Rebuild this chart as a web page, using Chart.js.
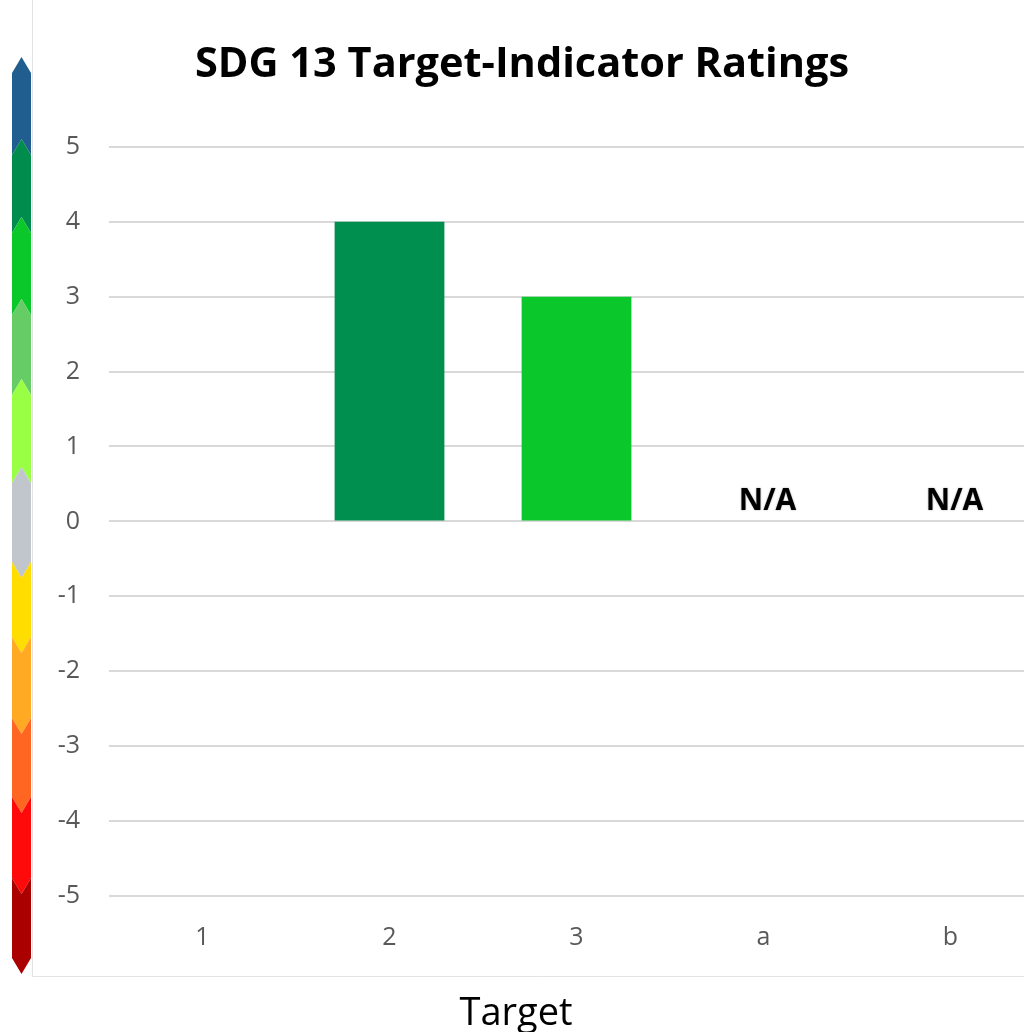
<!DOCTYPE html>
<html>
<head>
<meta charset="utf-8">
<script src="https://cdn.jsdelivr.net/npm/chart.js@4/dist/chart.umd.min.js"></script>
<style>
    html, body { margin: 0; padding: 0; background: #fff; overflow: hidden; }
    #wrap { width: 1024px; height: 1032px; overflow: hidden; }
</style>
</head>
<body>
<div id="wrap"><canvas id="ratings" width="1044" height="1032"></canvas></div>
<script>
    "use strict";

    // Targets and their ratings (null = not assessed)
    const targets = ['1', '2', '3', 'a', 'b'];
    const ratings = [null, 4, 3, null, null];
    const barColors = ['#009a4e', '#008f4e', '#0ac72b', '#0ac72b', '#0ac72b'];
    const valueNotes = ['', '', '', 'N/A', 'N/A'];
    const yTicks = [5, 4, 3, 2, 1, 0, -1, -2, -3, -4, -5];
    const xTitle = 'Target';

    // Rating colour scale, top (best) to bottom (worst)
    const scaleColors = [
        '#1f5e8e', '#008c4c', '#0ac82a', '#66cc66', '#99ff44', '#c0c6cc',
        '#ffdd00', '#ffaa22', '#ff6622', '#ff0a0a', '#aa0000',
    ];

    // Colour strip down the left edge, chart box border and axis title
    const ratingStrip = {
        id: 'ratingStrip',
        beforeDraw: function (chart) {
            const ctx = chart.ctx;
            const x0 = 12, x1 = 31, xm = (x0 + x1) / 2;
            const dip = 16;
            // segment edges: chevrons point up above neutral, down below it
            const ups = [73, 155, 233, 315, 395, 483];
            const downs = [562, 637, 718, 797, 878, 958];
            const edges = ups.map((y) => ({ y: y, tip: y - dip }))
                .concat(downs.map((y) => ({ y: y, tip: y + dip })));
            ctx.save();
            for (let i = 0; i < scaleColors.length; i++) {
                const top = edges[i];
                const bot = edges[i + 1];
                ctx.beginPath();
                ctx.moveTo(x0, top.y);
                ctx.lineTo(xm, top.tip);
                ctx.lineTo(x1, top.y);
                ctx.lineTo(x1, bot.y);
                ctx.lineTo(xm, bot.tip);
                ctx.lineTo(x0, bot.y);
                ctx.closePath();
                ctx.fillStyle = scaleColors[i];
                ctx.fill();
            }
            // box border
            ctx.strokeStyle = '#e3e3e3';
            ctx.lineWidth = 1;
            ctx.beginPath();
            ctx.moveTo(32.5, 0);
            ctx.lineTo(32.5, 976.5);
            ctx.lineTo(chart.width, 976.5);
            ctx.stroke();
            // x axis title, centred on the box
            ctx.font = '38px "Open Sans", sans-serif';
            ctx.fillStyle = '#000';
            ctx.textAlign = 'center';
            ctx.textBaseline = 'alphabetic';
            ctx.fillText(xTitle, 516, 1025);
            ctx.restore();
        }
    };

    // "N/A" notes for targets without a rating
    const noteLabels = {
        id: 'noteLabels',
        afterDatasetsDraw: function (chart) {
            const ctx = chart.ctx;
            const xs = chart.scales.x, ys = chart.scales.y;
            ctx.save();
            ctx.font = 'bold 30px "Open Sans", sans-serif';
            ctx.fillStyle = '#000';
            ctx.textAlign = 'center';
            ctx.textBaseline = 'alphabetic';
            ctx.shadowColor = 'rgba(0,0,0,0.35)';
            ctx.shadowBlur = 2;
            valueNotes.forEach((note, i) => {
                if (!note) {
                    return;
                }
                ctx.fillText(note, xs.getPixelForValue(i) + 4, ys.getPixelForValue(0) - 11);
            });
            ctx.restore();
        }
    };

    const ctx = document.getElementById('ratings');
    new Chart(ctx, {
        type: 'bar',
        data: {
            labels: targets,
            datasets: [{
                label: 'Rating',
                data: ratings,
                backgroundColor: barColors,
                borderWidth: 0,
                barPercentage: 1,
                categoryPercentage: 0.587,
            }]
        },
        options: {
            responsive: false,
            animation: false,
            layout: { padding: { left: 0, right: 0, top: 12, bottom: 52 } },
            plugins: {
                legend: { display: false },
                tooltip: { enabled: false },
                title: {
                    display: true,
                    text: 'SDG 13 Target-Indicator Ratings',
                    color: '#000',
                    font: { family: '"Open Sans", sans-serif', size: 41.5, weight: 'bold' },
                    padding: { top: 28, bottom: 57 },
                },
            },
            scales: {
                x: {
                    grid: { display: false, drawTicks: false },
                    border: { display: false },
                    ticks: {
                        color: '#595959',
                        padding: 27,
                        font: { family: '"Open Sans", sans-serif', size: 25 },
                    },
                },
                y: {
                    min: -5,
                    max: 5,
                    afterFit: function (scale) {
                        scale.width = 109;
                    },
                    afterBuildTicks: function (scale) {
                        scale.ticks = yTicks.map((v) => ({ value: v }));
                    },
                    grid: { color: '#d9d9d9', lineWidth: 2, drawTicks: false },
                    border: { display: false },
                    ticks: {
                        color: '#595959',
                        padding: 29,
                        font: { family: '"Open Sans", sans-serif', size: 25 },
                    },
                },
            },
        },
        plugins: [ratingStrip, noteLabels],
    });
</script>
</body>
</html>
